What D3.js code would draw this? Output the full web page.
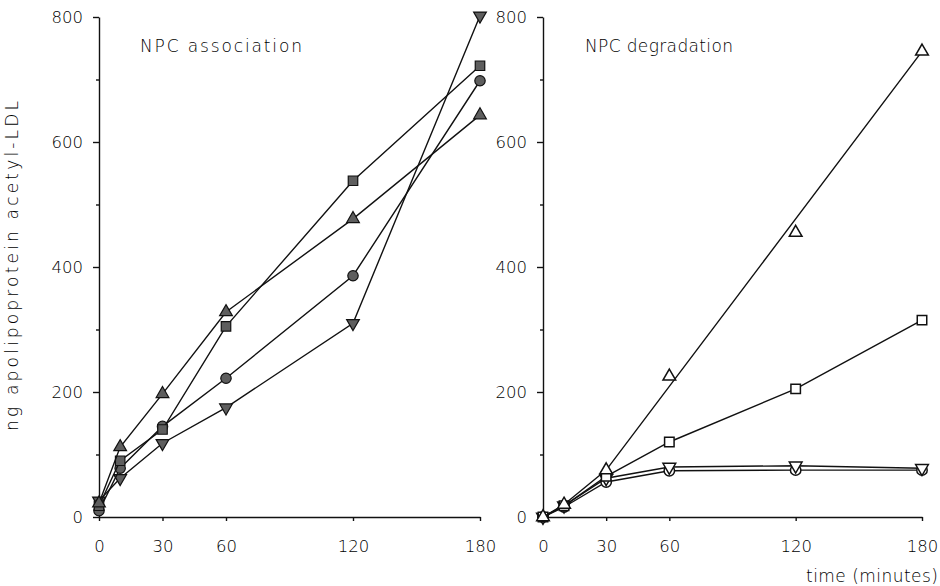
<!DOCTYPE html>
<html>
<head>
<meta charset="utf-8">
<script src="https://cdn.jsdelivr.net/npm/d3@7"></script>
<style>
  html, body { margin: 0; padding: 0; background: #fff; }
  svg { display: block; }
  text { font-family: "DejaVu Sans", "Open Sans", sans-serif; font-weight: 200; fill: #000; }
</style>
</head>
<body>
<svg id="chart" width="940" height="586"></svg>
<script>
// ---- data ----
const times = [0, 10, 30, 60, 120, 180];
const xTicks = [0, 30, 60, 120, 180];
const yTicks = [0, 200, 400, 600, 800];
const yMinorTicks = [100, 300, 500, 700];

// NPC association (filled markers)
const assocTriUp   = [22, 112, 197, 328, 477, 643];
const assocSquare  = [18, 90, 140, 305, 538, 722];
const assocCircle  = [10, 78, 145, 222, 386, 698];
const assocTriDown = [26, 62, 118, 175, 310, 802];

// NPC degradation (open markers)
const degTriUp   = [0, 20, 75, 225, 455, 745];
const degSquare  = [0, 18, 65, 120, 205, 315];
const degTriDown = [0, 18, 62, 80, 82, 78];
const degCircle  = [0, 16, 56, 74, 75, 75];
// fitted straight line drawn through the triangle series of the degradation panel
const degTriUpLineTimes  = [0, 10, 30, 180];
const degTriUpLineValues = [0, 20, 75, 745];

const panelTitles = ["NPC association", "NPC degradation"];
const yLabel = "ng apolipoprotein acetyl-LDL";
const xLabel = "time (minutes)";

// ---- layout ----
const svg = d3.select("#chart");
const y = d3.scaleLinear().domain([0, 800]).range([517, 17]);
const xL = d3.scaleLinear().domain([0, 180]).range([99, 480]);
const xR = d3.scaleLinear().domain([0, 180]).range([543, 922]);

function drawAxes(x) {
  const g = svg.append("g");
  g.append("g").attr("transform", `translate(${x(0)},0)`)
    .call(d3.axisLeft(y).tickValues(yTicks).tickSize(6).tickPadding(10).tickSizeOuter(0));
  g.append("g").attr("transform", `translate(${x(0)},0)`)
    .call(d3.axisLeft(y).tickValues(yMinorTicks).tickSize(3).tickFormat("").tickSizeOuter(0))
    .select(".domain").remove();
  g.append("g").attr("transform", `translate(0,${y(0)})`)
    .call(d3.axisBottom(x).tickValues(xTicks).tickSize(4).tickPadding(19).tickSizeOuter(0));
  g.selectAll(".domain").attr("stroke", "#111").attr("stroke-width", 1.4);
  g.selectAll(".tick line").attr("stroke", "#111").attr("stroke-width", 1.4);
  g.selectAll(".tick text").style("font-size", "16.5px")
    .style("font-family", "'DejaVu Sans', 'Open Sans', sans-serif").style("font-weight", 200).attr("fill", "#000");
}
drawAxes(xL);
drawAxes(xR);

const sym = {
  triUp: d3.symbol().type(d3.symbolTriangle).size(70),
  square: d3.symbol().type(d3.symbolSquare).size(90),
  circle: d3.symbol().type(d3.symbolCircle).size(85),
  triDown: d3.symbol().type(d3.symbolTriangle).size(70)
};

function drawSeries(x, vals, kind, filled, lineT, lineV) {
  const lt = lineT || times, lv = lineV || vals;
  const line = d3.line().x((d, i) => x(lt[i])).y(d => y(d));
  svg.append("path").datum(lv).attr("d", line)
    .attr("fill", "none").attr("stroke", "#111").attr("stroke-width", 1.4);
  svg.append("g").selectAll("path").data(vals).join("path")
    .attr("d", sym[kind]())
    .attr("transform", (d, i) => `translate(${x(times[i])},${y(d)})${kind === "triDown" ? " rotate(180)" : ""}`)
    .attr("fill", filled ? "#5e5e5e" : "#fff")
    .attr("stroke", "#111").attr("stroke-width", filled ? 1.2 : 1.5);
}

drawSeries(xL, assocTriDown, "triDown", true);
drawSeries(xL, assocCircle, "circle", true);
drawSeries(xL, assocSquare, "square", true);
drawSeries(xL, assocTriUp, "triUp", true);

drawSeries(xR, degCircle, "circle", false);
drawSeries(xR, degTriDown, "triDown", false);
drawSeries(xR, degSquare, "square", false);
drawSeries(xR, degTriUp, "triUp", false, degTriUpLineTimes, degTriUpLineValues);

// titles
function label(sel, len) { return sel.attr("textLength", len).attr("lengthAdjust", "spacing"); }
label(svg.append("text").attr("x", 140).attr("y", 52).style("font-size", "17px").text(panelTitles[0]), 162);
label(svg.append("text").attr("x", 585).attr("y", 52).style("font-size", "17px").text(panelTitles[1]), 148);
label(svg.append("text").attr("x", 806).attr("y", 582).style("font-size", "17px").text(xLabel), 132);
label(svg.append("text").attr("transform", "translate(18,431) rotate(-90)")
  .style("font-size", "17px").text(yLabel), 330);
</script>
</body>
</html>
